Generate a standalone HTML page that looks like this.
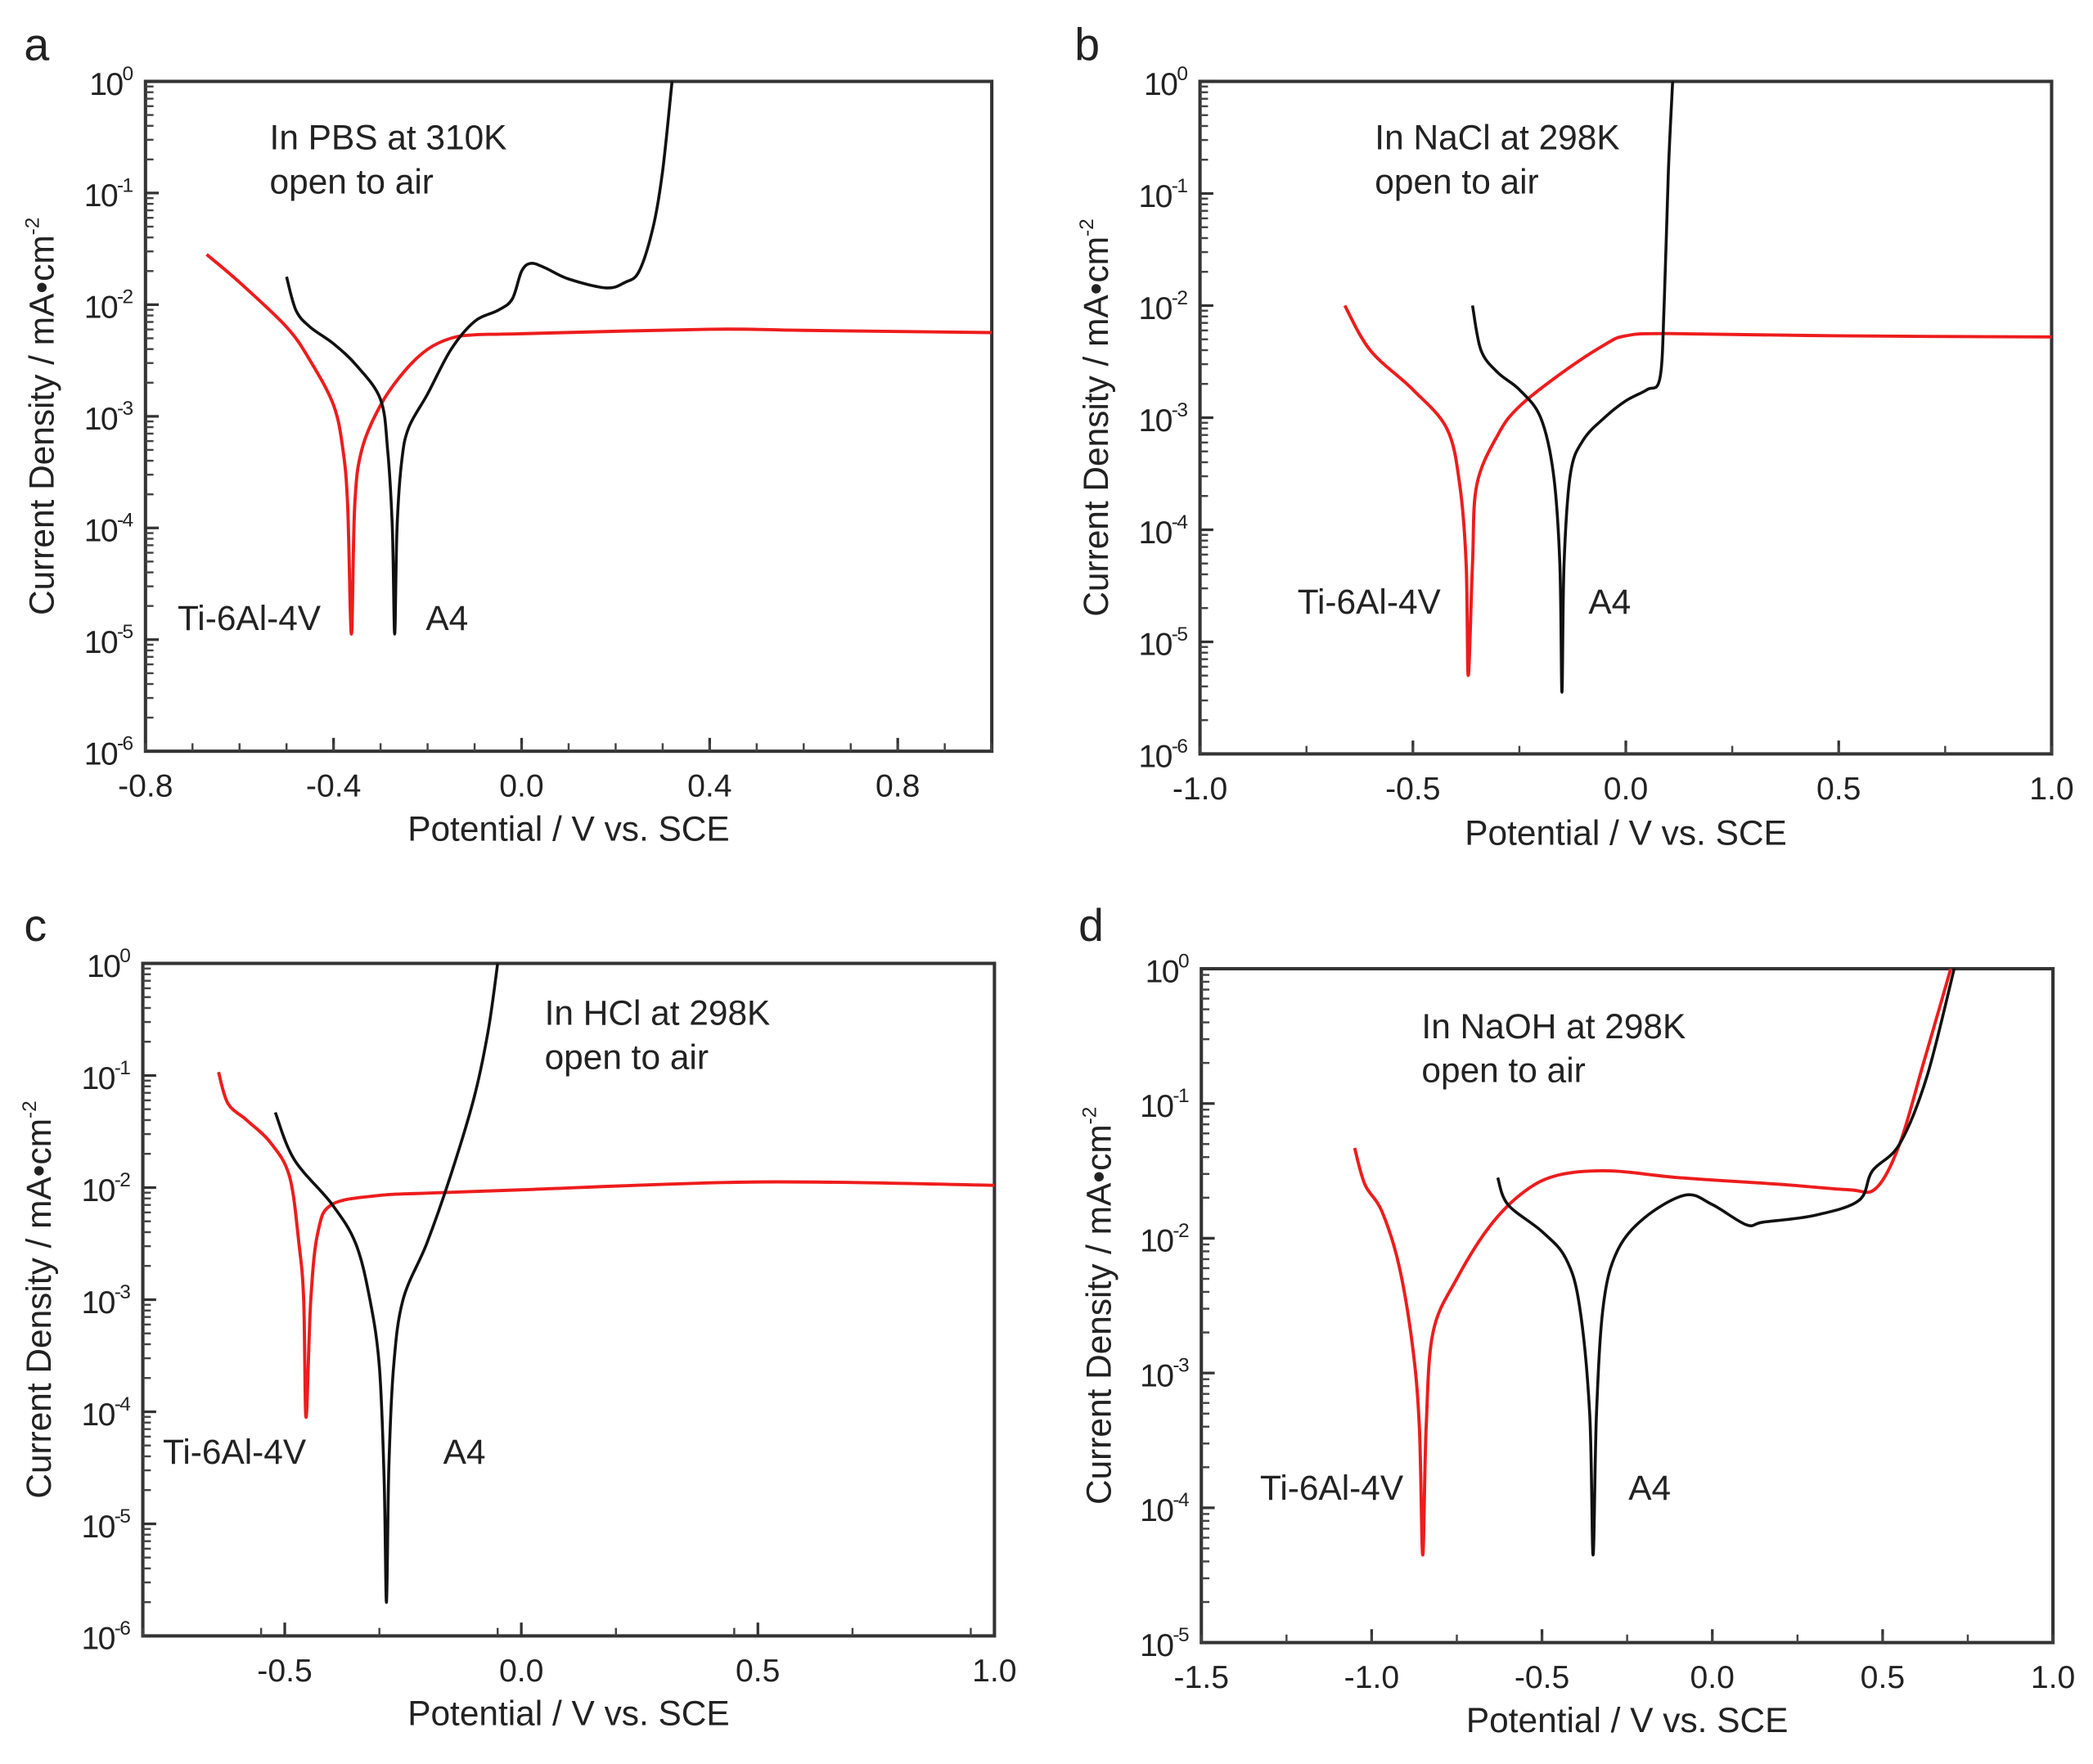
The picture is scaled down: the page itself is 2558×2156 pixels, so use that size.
<!DOCTYPE html>
<html><head><meta charset="utf-8">
<style>
html,body{margin:0;padding:0;background:#fff;}
svg{display:block;}
text{font-family:"Liberation Sans",Arial,sans-serif;fill:#222;}
</style></head>
<body>
<svg id="fig" width="2558" height="2156" viewBox="0 0 1568 1322" preserveAspectRatio="none" xmlns="http://www.w3.org/2000/svg"></svg>
<script>
// ---- data: [potential V, log10(current density)] ----
const aTi = [[-0.67,-1.55],[-0.6,-1.8],[-0.5,-2.2],[-0.45,-2.5],[-0.4,-2.9],[-0.38,-3.3],[-0.37,-3.8],[-0.362,-4.95],[-0.355,-3.8],[-0.34,-3.3],[-0.3,-2.9],[-0.25,-2.6],[-0.2,-2.4],[-0.15,-2.3],[-0.1,-2.27],[0,-2.26],[0.4,-2.22],[0.6,-2.23],[1.0,-2.25]];
const aA4 = [[-0.5,-1.75],[-0.48,-2.05],[-0.45,-2.2],[-0.4,-2.35],[-0.35,-2.55],[-0.3,-2.85],[-0.285,-3.3],[-0.275,-4.0],[-0.27,-4.95],[-0.265,-4.0],[-0.255,-3.4],[-0.24,-3.1],[-0.2,-2.8],[-0.15,-2.4],[-0.1,-2.15],[-0.05,-2.05],[-0.02,-1.95],[0.0,-1.7],[0.02,-1.63],[0.05,-1.67],[0.1,-1.77],[0.18,-1.85],[0.22,-1.8],[0.25,-1.7],[0.28,-1.3],[0.3,-0.8],[0.32,0]];
const bTi = [[-0.66,-2.0],[-0.6,-2.4],[-0.5,-2.75],[-0.42,-3.1],[-0.39,-3.6],[-0.375,-4.3],[-0.37,-5.3],[-0.36,-4.3],[-0.35,-3.6],[-0.3,-3.15],[-0.25,-2.9],[-0.15,-2.6],[-0.05,-2.35],[0.0,-2.27],[0.1,-2.25],[0.5,-2.27],[1.0,-2.28]];
const bA4 = [[-0.36,-2.0],[-0.34,-2.4],[-0.3,-2.6],[-0.25,-2.75],[-0.2,-3.0],[-0.17,-3.5],[-0.155,-4.3],[-0.15,-5.45],[-0.145,-4.3],[-0.13,-3.5],[-0.1,-3.2],[-0.05,-3.0],[0.0,-2.85],[0.05,-2.75],[0.08,-2.65],[0.09,-2.0],[0.1,-0.8],[0.11,0]];
const cTi = [[-0.64,-0.97],[-0.62,-1.25],[-0.58,-1.4],[-0.53,-1.6],[-0.49,-1.9],[-0.47,-2.5],[-0.46,-3.0],[-0.455,-4.05],[-0.445,-3.0],[-0.43,-2.4],[-0.4,-2.15],[-0.3,-2.07],[-0.2,-2.05],[0.0,-2.02],[0.5,-1.95],[1.0,-1.98]];
const cA4 = [[-0.52,-1.33],[-0.48,-1.75],[-0.4,-2.15],[-0.35,-2.5],[-0.32,-3.0],[-0.3,-3.6],[-0.29,-4.6],[-0.285,-5.7],[-0.28,-4.5],[-0.27,-3.6],[-0.25,-3.0],[-0.2,-2.5],[-0.15,-1.9],[-0.1,-1.2],[-0.07,-0.6],[-0.05,0]];
const dTi = [[-1.05,-1.33],[-1.02,-1.6],[-0.97,-1.8],[-0.92,-2.2],[-0.88,-2.8],[-0.86,-3.4],[-0.85,-4.35],[-0.84,-3.4],[-0.82,-2.7],[-0.75,-2.3],[-0.65,-1.9],[-0.55,-1.65],[-0.45,-1.53],[-0.3,-1.5],[-0.1,-1.55],[0.2,-1.6],[0.4,-1.64],[0.48,-1.63],[0.55,-1.3],[0.62,-0.7],[0.7,0]];
const dA4 = [[-0.63,-1.55],[-0.6,-1.75],[-0.5,-1.95],[-0.43,-2.15],[-0.39,-2.5],[-0.36,-3.3],[-0.35,-4.35],[-0.34,-3.3],[-0.32,-2.5],[-0.28,-2.1],[-0.2,-1.85],[-0.08,-1.68],[0.0,-1.75],[0.1,-1.9],[0.15,-1.88],[0.3,-1.83],[0.43,-1.72],[0.47,-1.5],[0.55,-1.3],[0.63,-0.8],[0.71,0]];
const aXTicks = ["-0.8","-0.4","0.0","0.4","0.8"];
const bXTicks = ["-1.0","-0.5","0.0","0.5","1.0"];
const cXTicks = ["-0.5","0.0","0.5","1.0"];
const dXTicks = ["-1.5","-1.0","-0.5","0.0","0.5","1.0"];

const NS = "http://www.w3.org/2000/svg";
const svg = document.getElementById('fig');
function mk(tag, attrs, parent){
  const e = document.createElementNS(NS, tag);
  for (const k in attrs) e.setAttribute(k, attrs[k]);
  (parent||svg).appendChild(e);
  return e;
}

const panels = [
 {id:'a', L:109,T:61,R:743,B:563, x0:-0.8,x1:1.0, ymin:-6, xt:aXTicks, minorStep:0.1, ti:aTi, a4:aA4,
  letter:[18,45], cond:["In PBS at 310K",202,112], tiLab:[133,472], a4Lab:[319,472], xTitleY:630, yTitleX:40},
 {id:'b', L:899,T:61,R:1537,B:565, x0:-1.0,x1:1.0, ymin:-6, xt:bXTicks, minorStep:0.25, ti:bTi, a4:bA4,
  letter:[805,45], cond:["In NaCl at 298K",1030,112], tiLab:[972,460], a4Lab:[1190,460], xTitleY:633, yTitleX:830},
 {id:'c', L:107,T:722,R:745,B:1226, x0:-0.8,x1:1.0, ymin:-6, xt:cXTicks, minorStep:0.25, ti:cTi, a4:cA4,
  letter:[18,705], cond:["In HCl at 298K",408,768], tiLab:[122,1097], a4Lab:[332,1097], xTitleY:1293, yTitleX:38},
 {id:'d', L:900,T:726,R:1538,B:1231, x0:-1.5,x1:1.0, ymin:-5, xt:dXTicks, minorStep:0.25, ti:dTi, a4:dA4,
  letter:[808,705], cond:["In NaOH at 298K",1065,778], tiLab:[944,1124], a4Lab:[1220,1124], xTitleY:1298, yTitleX:832}
];

panels.forEach(p=>{
  const g = mk('g',{});
  
  
  const xs = v => p.L + (v-p.x0)/(p.x1-p.x0)*(p.R-p.L);
  const ys = v => p.T + (0-v)/(0-p.ymin)*(p.B-p.T);
  const lt = mk('text',{x:p.letter[0],y:p.letter[1],'font-size':34},g); lt.textContent=p.id;
   
  const fr = mk('rect',{x:p.L,y:p.T,width:p.R-p.L,height:p.B-p.T,fill:'none',stroke:'#333','stroke-width':2.5},g);
   
  for(let e=0;e>=p.ymin;e--){
    const y=ys(e);
    mk('line',{x1:p.L,y1:y,x2:p.L+10,y2:y,stroke:'#333','stroke-width':2},g);
    const t = mk('text',{x:p.L-10,y:y+10,'font-size':24,'text-anchor':'end','letter-spacing':-1},g);
     
    t.textContent='10';
    const s = mk('tspan',{dy:-11,'font-size':15},t); s.textContent=String(e);
    if(e>p.ymin){ for(let m=2;m<=9;m++){ const yy=ys(e-1+Math.log10(m)); mk('line',{x1:p.L,y1:yy,x2:p.L+6,y2:yy,stroke:'#444','stroke-width':1.5},g);} }
  }
  p.xt.forEach(lab=>{
    const v=parseFloat(lab), x=xs(v);
    mk('line',{x1:x,y1:p.B,x2:x,y2:p.B-10,stroke:'#333','stroke-width':2},g);
    const t=mk('text',{x:x,y:p.B+34,'font-size':24,'text-anchor':'middle'},g);
     
    t.textContent=lab;
  });
  for(let v=p.x0; v<=p.x1+1e-9; v+=p.minorStep){
    const x=xs(v); mk('line',{x1:x,y1:p.B,x2:x,y2:p.B-6,stroke:'#444','stroke-width':1.5},g);
  }
  const xt=mk('text',{x:(p.L+p.R)/2,y:p.xTitleY,'font-size':26,'text-anchor':'middle'},g);
   
  xt.textContent='Potential / V vs. SCE';
  const cy=(p.T+p.B)/2;
  const yt=mk('text',{x:p.yTitleX,y:cy,'font-size':26,'text-anchor':'middle',transform:`rotate(-90 ${p.yTitleX} ${cy})`},g);
   
  yt.textContent='Current Density / mA\u2022cm';
  const sp=mk('tspan',{dy:-11,'font-size':15},yt); sp.textContent='-2';
  const c1=mk('text',{x:p.cond[1],y:p.cond[2],'font-size':26},g); c1.textContent=p.cond[0];
   
  const c2=mk('text',{x:p.cond[1],y:p.cond[2]+33,'font-size':26},g); c2.textContent='open to air';
   
  const l1=mk('text',{x:p.tiLab[0],y:p.tiLab[1],'font-size':26},g); l1.textContent='Ti-6Al-4V';
   
  const l2=mk('text',{x:p.a4Lab[0],y:p.a4Lab[1],'font-size':26},g); l2.textContent='A4';
   
  // smooth curve through points (Catmull-Rom)
  const path = pts => {
    const P = pts.map(q=>[xs(q[0]), ys(q[1])]);
    let d='M'+P[0][0].toFixed(2)+' '+P[0][1].toFixed(2);
    for(let i=0;i<P.length-1;i++){
      const p0=P[Math.max(i-1,0)], p1=P[i], p2=P[i+1], p3=P[Math.min(i+2,P.length-1)];
      const c1x=p1[0]+(p2[0]-p0[0])/6, c1y=p1[1]+(p2[1]-p0[1])/6;
      const c2x=p2[0]-(p3[0]-p1[0])/6, c2y=p2[1]-(p3[1]-p1[1])/6;
      d+=` C${c1x.toFixed(2)} ${c1y.toFixed(2)} ${c2x.toFixed(2)} ${c2y.toFixed(2)} ${p2[0].toFixed(2)} ${p2[1].toFixed(2)}`;
    }
    return d;
  };
  const r=mk('path',{d:path(p.ti),fill:'none',stroke:'#ee1c1c','stroke-width':2.4,'stroke-linejoin':'round'},g);
   
  const k=mk('path',{d:path(p.a4),fill:'none',stroke:'#111','stroke-width':2.2,'stroke-linejoin':'round'},g);
   
});
</script>
</body></html>
